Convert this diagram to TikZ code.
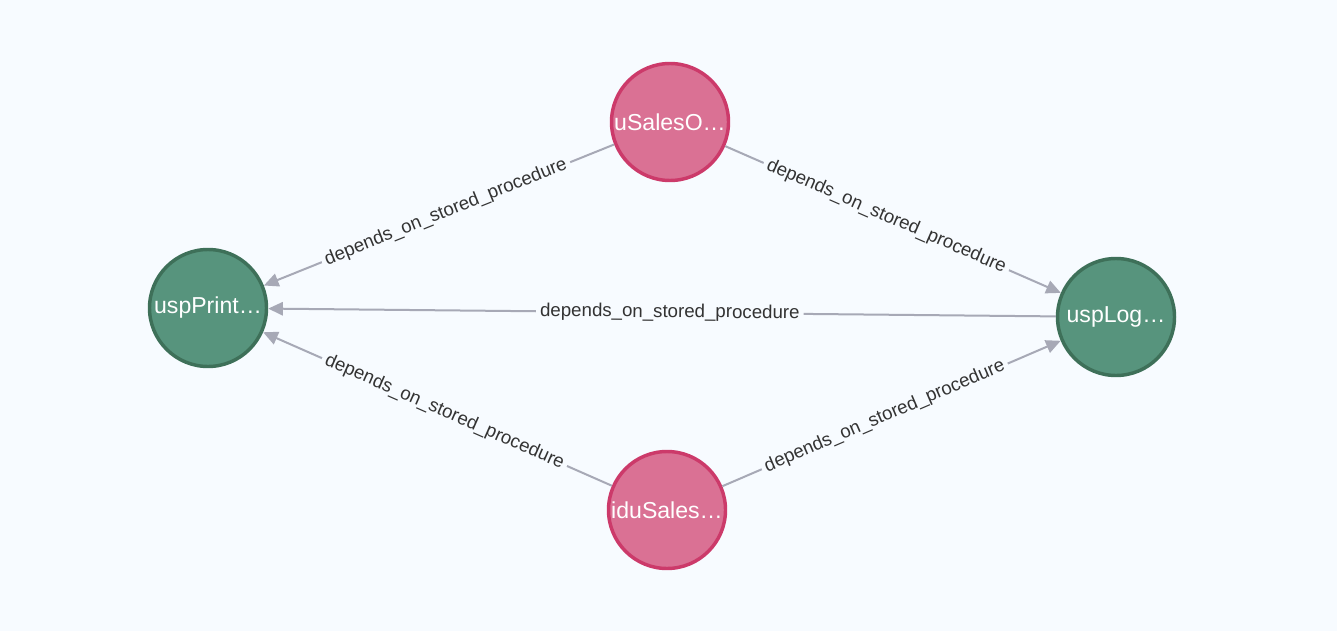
\documentclass[tikz,border=0pt]{standalone}
\usepackage{fontspec}
\setmainfont{Liberation Sans}
\usetikzlibrary{arrows.meta}
\definecolor{bgc}{HTML}{F7FBFF}
\definecolor{pinkfill}{HTML}{DA7194}
\definecolor{pinkdraw}{HTML}{CC3A6A}
\definecolor{greenfill}{HTML}{57947D}
\definecolor{greendraw}{HTML}{3E7059}
\definecolor{edgec}{HTML}{A7A9B6}
\definecolor{labc}{HTML}{333333}
\tikzset{
  x=0.75pt, y=-0.75pt,
  vnode/.style={circle, minimum size=87.75pt, inner sep=0pt, line width=2.6pt,
    text=white, font=\fontsize{17.3}{20}\selectfont},
  pinknode/.style={vnode, fill=pinkfill, draw=pinkdraw},
  greennode/.style={vnode, fill=greenfill, draw=greendraw},
  edge/.style={draw=edgec, line width=1.5pt, -{Triangle[length=11pt,width=10pt]}},
  elabel/.style={sloped, pos=0.48, fill=bgc, inner sep=3pt, text=labc,
    font=\fontsize{14}{16}\selectfont}
}
\begin{document}
\begin{tikzpicture}
\fill[bgc] (0,0) rectangle (1337,631);
\useasboundingbox (0,0) rectangle (1337,631);
\node[pinknode] (us) at (670,122) {uSalesO…};
\node[greennode] (up) at (208,308) {uspPrint…};
\node[greennode] (ul) at (1116,317) {uspLog…};
\node[pinknode] (id) at (667,510) {iduSales…};
\draw[edge] (us) -- node[elabel] {depends\_on\_stored\_procedure} (up);
\draw[edge] (us) -- node[elabel] {depends\_on\_stored\_procedure} (ul);
\draw[edge] (ul) -- node[elabel, pos=0.49] {depends\_on\_stored\_procedure} (up);
\draw[edge] (id) -- node[elabel] {depends\_on\_stored\_procedure} (up);
\draw[edge] (id) -- node[elabel] {depends\_on\_stored\_procedure} (ul);
\end{tikzpicture}
\end{document}
